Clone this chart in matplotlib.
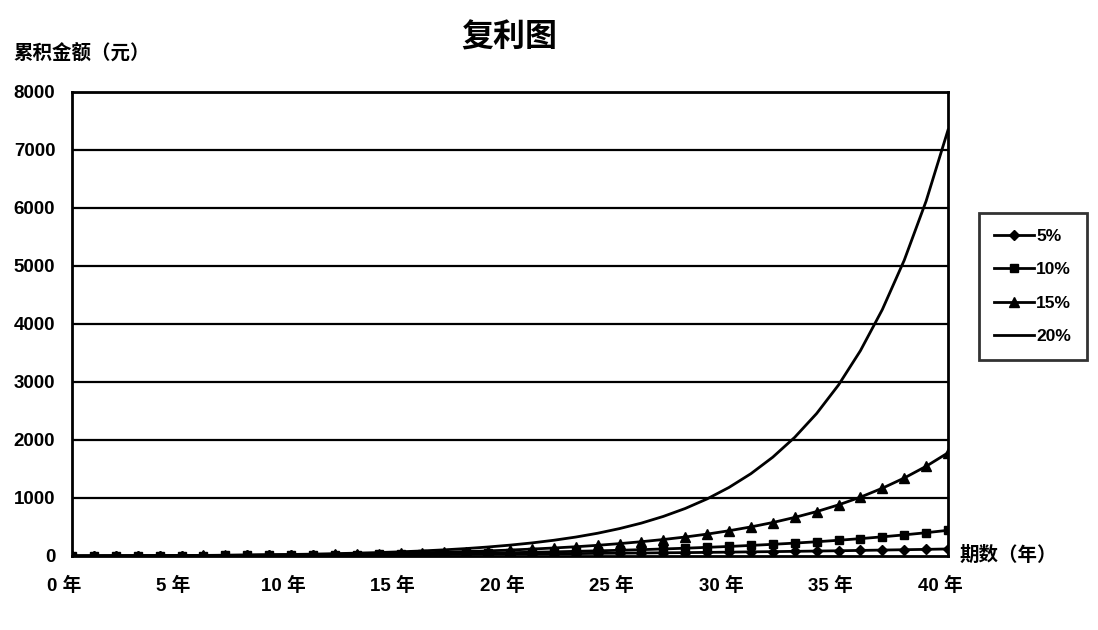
import matplotlib
matplotlib.use("Agg")
import matplotlib.pyplot as plt
import matplotlib.transforms as mtrans

plt.rcParams['font.family'] = ['Liberation Sans', 'Noto Sans CJK SC', 'DejaVu Sans']

years = list(range(0, 41))
x_tick_pos = [0, 5, 10, 15, 20, 25, 30, 35, 40]
x_tick_labels = ["0 年", "5 年", "10 年", "15 年", "20 年", "25 年", "30 年", "35 年", "40 年"]
y_ticks = [0, 1000, 2000, 3000, 4000, 5000, 6000, 7000, 8000]

s5 = [0, 1, 2, 3, 4, 6, 7, 8, 10, 11, 13, 14, 16, 18, 20, 22, 24, 26, 28, 31,
      33, 36, 39, 41, 45, 48, 51, 55, 58, 62, 66, 71, 75, 80, 85, 90, 96, 102,
      108, 114, 121]
s10 = [0, 1, 2, 3, 5, 6, 8, 9, 11, 14, 16, 19, 21, 25, 28, 32, 36, 41, 46, 51,
       57, 64, 71, 80, 89, 98, 109, 121, 134, 149, 164, 182, 201, 222, 245, 271,
       299, 330, 364, 401, 443]
s15 = [0, 1, 2, 3, 5, 7, 9, 11, 14, 17, 20, 24, 29, 34, 41, 48, 56, 65, 76, 88,
       102, 119, 138, 159, 184, 213, 246, 284, 327, 377, 435, 501, 577, 665, 765,
       881, 1014, 1168, 1344, 1546, 1779]
s20 = [0, 1, 2, 4, 5, 7, 10, 13, 17, 21, 26, 32, 40, 49, 59, 72, 87, 106, 128, 155,
       187, 225, 271, 326, 392, 472, 567, 682, 819, 984, 1182, 1419, 1704, 2046,
       2456, 2948, 3539, 4248, 5098, 6119, 7344]

fig = plt.figure(figsize=(10.98, 6.30), dpi=100)
ax = fig.add_axes([0.0656, 0.1175, 0.7978, 0.7365])

for v in y_ticks[1:]:
    ax.axhline(v, color='black', lw=1.6, zorder=1)

kw = dict(color='black', lw=2.0, zorder=3)
ax.plot(years, s5, marker='D', ms=5.5, label='5%', **kw)
ax.plot(years, s10, marker='s', ms=5.5, label='10%', **kw)
ax.plot(years, s15, marker='^', ms=6.5, label='15%', **kw)
ax.plot(years, s20, label='20%', **kw)

ax.set_xlim(0, 40)
ax.set_ylim(0, 8000)
ax.set_yticks(y_ticks)
ax.set_yticklabels([str(v) for v in y_ticks], fontsize=13.5, fontweight='bold')
ax.set_xticks(x_tick_pos)
ax.set_xticklabels(x_tick_labels, fontsize=13.5, fontweight='bold')
ax.tick_params(axis='both', length=0)
ax.tick_params(axis='y', pad=12)
ax.tick_params(axis='x', pad=15)
offset = mtrans.ScaledTranslation(-8 / 100, 0, fig.dpi_scale_trans)
for lab in ax.get_xticklabels():
    lab.set_transform(lab.get_transform() + offset)

for sp in ax.spines.values():
    sp.set_linewidth(2.0)
    sp.set_color('black')

fig.text(0.4636, 0.94, "复利图", fontsize=23, fontweight='bold', ha='center', va='center',
         family=['Noto Sans CJK SC'])
fig.text(0.012, 0.915, "累积金额（元）", fontsize=14, fontweight='bold', ha='left', va='center',
         family=['Noto Sans CJK SC'])
fig.text(0.874, 0.118, "期数（年）", fontsize=14, fontweight='bold', ha='left', va='center',
         family=['Noto Sans CJK SC'])

leg = ax.legend(loc='upper left', bbox_to_anchor=(1.035, 0.739), frameon=True, fancybox=False,
                edgecolor='black', prop={'size': 12.5, 'weight': 'bold'},
                handlelength=2.3, handletextpad=0.1, labelspacing=1.05,
                borderpad=0.9, borderaxespad=0)
leg.get_frame().set_linewidth(2.0)

fig.savefig("out.png", dpi=100, facecolor='white')
